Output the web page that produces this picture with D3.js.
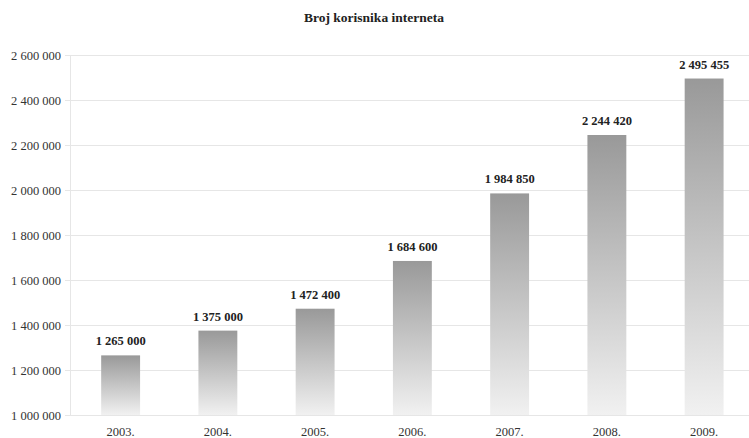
<!DOCTYPE html>
<html><head><meta charset="utf-8">
<script src="https://cdn.jsdelivr.net/npm/d3@7"></script>
<style>body{margin:0;background:#fff}svg{display:block}</style>
</head><body>
<script>
const title = "Broj korisnika interneta";
const years = ["2003.","2004.","2005.","2006.","2007.","2008.","2009."];
const users = [1265000,1375000,1472400,1684600,1984850,2244420,2495455];
const yTicks = [1000000,1200000,1400000,1600000,1800000,2000000,2200000,2400000,2600000];

const W=749,H=438, m={l:70,r:0,t:55,b:23};
const fmt = v => d3.format(",")(v).replace(/,/g," ");
const svg = d3.select("body").append("svg").attr("width",W).attr("height",H);
const defs = svg.append("defs");
const g = defs.append("linearGradient").attr("id","bg").attr("x1",0).attr("y1",0).attr("x2",0).attr("y2",1);
g.append("stop").attr("offset","0%").attr("stop-color","#999999");
g.append("stop").attr("offset","100%").attr("stop-color","#f1f1f1");

const x = d3.scaleBand().domain(years).range([72,752.75]).paddingInner(0.6).paddingOuter(0.3);
const y = d3.scaleLinear().domain([1000000,2600000]).range([H-m.b,m.t]);

svg.append("text").attr("x",374).attr("y",22).attr("text-anchor","middle")
  .attr("font-family","Liberation Serif, Times New Roman, serif").attr("font-weight","bold")
  .attr("font-size",13.5).attr("fill","#222").text(title);

svg.append("g").selectAll("line").data(yTicks).join("line")
  .attr("x1",m.l-5).attr("x2",W).attr("y1",d=>y(d)+0.5).attr("y2",d=>y(d)+0.5)
  .attr("stroke","#e6e6e6");
svg.append("line").attr("x1",m.l+0.5).attr("x2",m.l+0.5).attr("y1",m.t).attr("y2",H-m.b)
  .attr("stroke","#e6e6e6");

const ya = svg.append("g").attr("transform",`translate(${m.l-6},0)`)
  .call(d3.axisLeft(y).tickValues(yTicks).tickFormat(fmt).tickSize(0).tickPadding(3));
ya.select(".domain").remove();
ya.selectAll("text").attr("font-family","Liberation Serif, Times New Roman, serif")
  .attr("font-size",12.5).attr("fill","#333");

const xa = svg.append("g").attr("transform",`translate(0,${H-m.b})`)
  .call(d3.axisBottom(x).tickSize(0).tickPadding(12));
xa.select(".domain").attr("stroke","#e6e6e6");
xa.selectAll("text").attr("font-family","Liberation Serif, Times New Roman, serif")
  .attr("font-size",12.5).attr("fill","#333");

svg.append("g").selectAll("rect").data(users).join("rect")
  .attr("x",(d,i)=>x(years[i])).attr("width",x.bandwidth())
  .attr("y",d=>y(d)).attr("height",d=>y(1000000)-y(d))
  .attr("fill","url(#bg)");

svg.append("g").selectAll("text").data(users).join("text")
  .attr("x",(d,i)=>x(years[i])+x.bandwidth()/2).attr("y",d=>y(d)-10)
  .attr("text-anchor","middle").attr("font-family","Liberation Serif, Times New Roman, serif")
  .attr("font-weight","bold").attr("font-size",12.5).attr("fill","#222").text(fmt);
</script>
</body></html>
